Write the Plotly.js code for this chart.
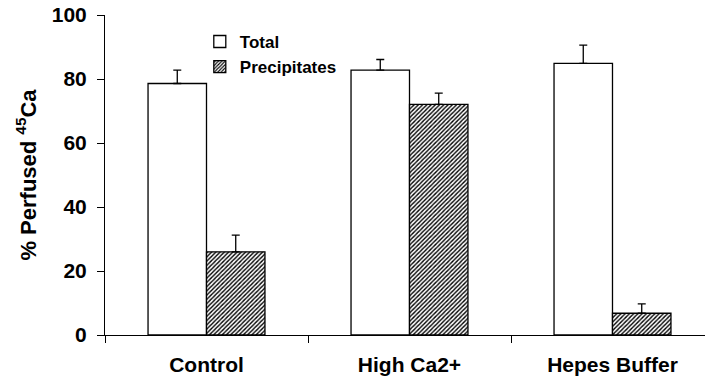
<!DOCTYPE html>
<html><head><meta charset="utf-8">
<script src="https://cdn.plot.ly/plotly-3.0.1.min.js"></script>
<style>html,body{margin:0;padding:0;background:#fff}#chart{width:705px;height:383px}</style>
</head><body><div id="chart"></div>
<script>
const categories = ["Control", "High Ca2+", "Hepes Buffer"];
const totalValues = [78.6, 82.8, 84.9];
const totalErrors = [4.2, 3.3, 5.7];
const precipValues = [26.0, 72.1, 6.8];
const precipErrors = [5.2, 3.5, 2.9];
const yTicks = [0, 20, 40, 60, 80, 100];

const FONT = "Liberation Sans, Arial, sans-serif";
const traces = [
  {type: "bar", name: "Total", x: categories, y: totalValues,
   marker: {color: "#ffffff", line: {color: "#000", width: 1.3}},
   error_y: {type: "data", array: totalErrors, symmetric: false, arrayminus: [0,0,0], color: "#000", thickness: 1.3, width: 4}},
  {type: "bar", name: "Precipitates", x: categories, y: precipValues,
   marker: {color: "#ffffff", line: {color: "#000", width: 1.3},
            pattern: {shape: "/", fgcolor: "#000", bgcolor: "#fff", size: 3, solidity: 0.45}},
   error_y: {type: "data", array: precipErrors, symmetric: false, arrayminus: [0,0,0], color: "#000", thickness: 1.3, width: 4}}
];
const layout = {
  width: 705, height: 383,
  margin: {l: 105, r: 0, t: 15, b: 48},
  paper_bgcolor: "#fff", plot_bgcolor: "#fff",
  font: {family: FONT, color: "#000", size: 16, weight: "bold"},
  barmode: "group", bargap: 0.424, bargroupgap: 0,
  showlegend: true,
  legend: {x: 0.158, y: 0.972, xanchor: "left", yanchor: "top", font: {size: 17, weight: "bold"}, bgcolor: "rgba(0,0,0,0)", tracegroupgap: 0},
  xaxis: {type: "category", range: [-0.5, 2.4557], tickson: "boundaries",
          ticks: "outside", ticklen: 7, tickcolor: "#000", tickwidth: 1,
          showline: true, linecolor: "#000", linewidth: 1, showgrid: false, zeroline: false,
          tickfont: {size: 21, weight: "bold"}, ticklabelstandoff: 11, fixedrange: true},
  yaxis: {range: [0, 100], tickvals: yTicks, ticks: "outside", ticklen: 7, tickcolor: "#000", tickwidth: 1,
          showline: true, linecolor: "#000", linewidth: 1, showgrid: false, zeroline: false,
          tickfont: {size: 21, weight: "bold"}, ticklabelstandoff: 6,
          title: {text: "% Perfused <sup>45</sup>Ca", font: {size: 22, weight: "bold"}, standoff: 9}}
};
Plotly.newPlot("chart", traces, layout, {displayModeBar: false, staticPlot: true});
</script></body></html>
